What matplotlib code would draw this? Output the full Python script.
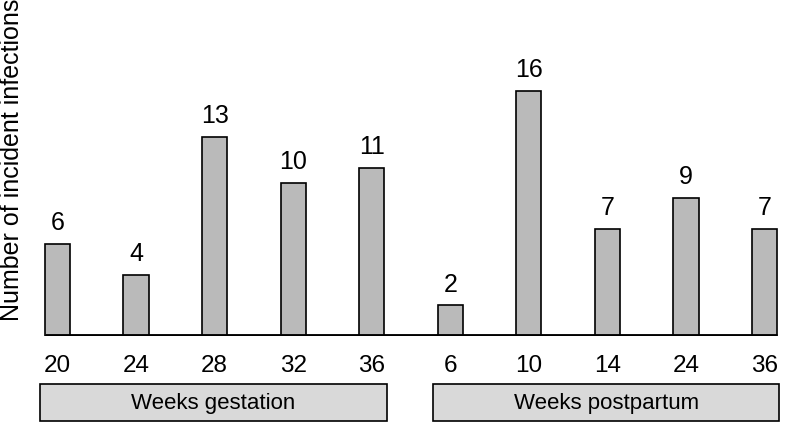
import matplotlib.pyplot as plt
from matplotlib.patches import Rectangle
from matplotlib.transforms import blended_transform_factory
import numpy as np

plt.rcParams['font.family'] = ['Liberation Sans', 'DejaVu Sans']

tick_labels = ['20', '24', '28', '32', '36', '6', '10', '14', '24', '36']
counts = [6, 4, 13, 10, 11, 2, 16, 7, 9, 7]
groups = ['Weeks gestation', 'Weeks postpartum']
group_slices = [(0, 4), (5, 9)]

x = np.arange(len(counts))
w = 0.32

fig = plt.figure(figsize=(7.89, 4.28), dpi=100)
# axes spans full width; index 0 sits ~57px from the left
ax = fig.add_axes([0, 92 / 428, 1, 336 / 428])
ax.set_xlim(-57.5 / 78.56, (789 - 57.5) / 78.56)
ax.set_ylim(0, 336 / 15.3)

ax.bar(x, counts, width=w, color='#bababa', edgecolor='black', linewidth=1.2, zorder=2)
ax.plot([x[0] - w / 2, x[-1] + w / 2], [0, 0], color='black', lw=3.5,
        solid_capstyle='butt', zorder=3)

for xi, c in zip(x, counts):
    ax.annotate(str(c), (xi, c), xytext=(0, 10), textcoords='offset points',
                ha='center', va='baseline', fontsize=18)

for s in ax.spines.values():
    s.set_visible(False)
ax.set_yticks([])
ax.set_xticks(x)
ax.set_xticklabels(tick_labels, fontsize=17.5)
ax.tick_params(axis='x', length=0, pad=14)

trans = blended_transform_factory(ax.transData, fig.transFigure)
for name, (a, b) in zip(groups, group_slices):
    left = a - 0.22
    right = b + 0.19
    ax.add_patch(Rectangle((left, 7 / 428), right - left, 37 / 428, transform=trans,
                           facecolor='#d9d9d9', edgecolor='black', lw=1.2, clip_on=False))
    ax.text((left + right) / 2, 1 - 404 / 428, name, transform=trans,
            ha='center', va='center', fontsize=16)

fig.text(12 / 789, 1 - 160 / 428, 'Number of incident infections', rotation=90,
         ha='center', va='center', fontsize=18)

fig.savefig('out.png', dpi=100)
